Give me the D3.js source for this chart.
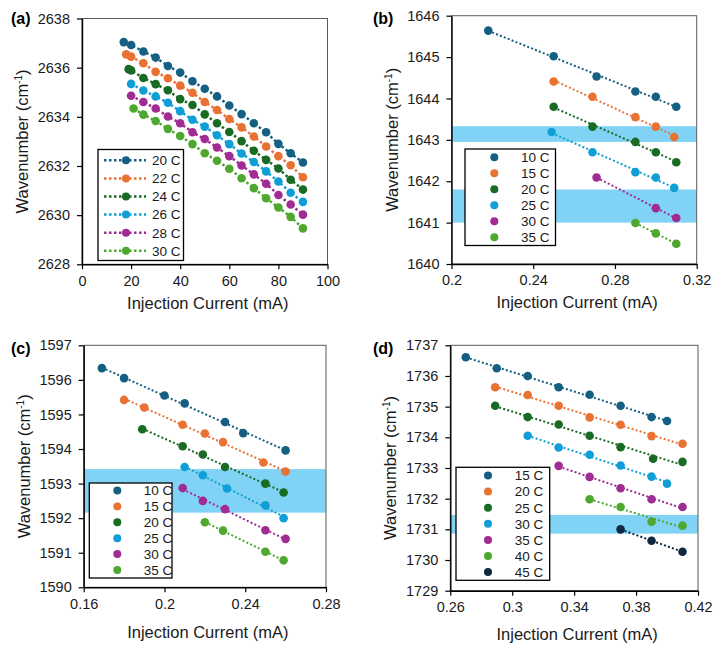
<!DOCTYPE html>
<html>
<head>
<meta charset="utf-8">
<script src="https://cdn.jsdelivr.net/npm/d3@7"></script>
<style>
  body { margin: 0; background: #fff; }
  svg { display: block; font-family: "Liberation Sans", Arial, sans-serif; }
</style>
</head>
<body>
<svg id="chart" width="722" height="662"></svg>
<script>
const palette = ['#156082', '#E97132', '#196B24', '#0F9ED5', '#A02B93', '#4EA72E', '#0E2841'];

// (a) injection current in mA, wavenumber in cm-1
const aLabels = ['20 C', '22 C', '24 C', '26 C', '28 C', '30 C'];
const aX = [
  [17, 20, 25, 30, 35, 40, 45, 50, 55, 60, 65, 70, 75, 80, 85, 90],
  [18, 20, 25, 30, 35, 40, 45, 50, 55, 60, 65, 70, 75, 80, 85, 90],
  [19, 20, 25, 30, 35, 40, 45, 50, 55, 60, 65, 70, 75, 80, 85, 90],
  [20, 25, 30, 35, 40, 45, 50, 55, 60, 65, 70, 75, 80, 85, 90],
  [20, 25, 30, 35, 40, 45, 50, 55, 60, 65, 70, 75, 80, 85, 90],
  [21, 25, 30, 35, 40, 45, 50, 55, 60, 65, 70, 75, 80, 85, 90]
];
const aY = [
  [2637.04, 2636.92, 2636.66, 2636.41, 2636.07, 2635.80, 2635.45, 2635.14, 2634.83, 2634.46, 2634.11, 2633.74, 2633.37, 2632.90, 2632.52, 2632.14],
  [2636.54, 2636.45, 2636.18, 2635.83, 2635.57, 2635.27, 2634.98, 2634.60, 2634.28, 2633.91, 2633.57, 2633.20, 2632.79, 2632.40, 2632.03, 2631.54],
  [2635.94, 2635.89, 2635.58, 2635.33, 2635.08, 2634.72, 2634.48, 2634.10, 2633.74, 2633.38, 2633.01, 2632.62, 2632.25, 2631.90, 2631.44, 2631.04],
  [2635.34, 2635.07, 2634.83, 2634.57, 2634.23, 2633.88, 2633.60, 2633.25, 2632.89, 2632.51, 2632.16, 2631.78, 2631.37, 2630.91, 2630.54],
  [2634.86, 2634.60, 2634.34, 2634.01, 2633.74, 2633.37, 2633.10, 2632.75, 2632.40, 2632.02, 2631.66, 2631.28, 2630.82, 2630.43, 2630.02],
  [2634.34, 2634.09, 2633.83, 2633.51, 2633.22, 2632.89, 2632.52, 2632.21, 2631.89, 2631.50, 2631.10, 2630.69, 2630.31, 2629.93, 2629.46]
];
const aTicksX = [0, 20, 40, 60, 80, 100];
const aTicksY = [2628, 2630, 2632, 2634, 2636, 2638];

// (b)
const bLabels = ['10 C', '15 C', '20 C', '25 C', '30 C', '35 C'];
const bX = [
  [0.218, 0.25, 0.271, 0.29, 0.30, 0.31],
  [0.25, 0.269, 0.29, 0.30, 0.309],
  [0.25, 0.269, 0.29, 0.30, 0.31],
  [0.249, 0.269, 0.29, 0.30, 0.309],
  [0.271, 0.30, 0.31],
  [0.29, 0.30, 0.31]
];
const bY = [
  [1645.64, 1645.02, 1644.53, 1644.17, 1644.04, 1643.80],
  [1644.41, 1644.04, 1643.55, 1643.32, 1643.07],
  [1643.80, 1643.32, 1642.95, 1642.70, 1642.46],
  [1643.19, 1642.70, 1642.22, 1642.09, 1641.84],
  [1642.09, 1641.35, 1641.11],
  [1640.99, 1640.74, 1640.49]
];
const bBands = [[1642.95, 1643.33], [1641.0, 1641.8]];
const bTicksX = [0.2, 0.24, 0.28, 0.32];
const bTicksY = [1640, 1641, 1642, 1643, 1644, 1645, 1646];

// (c)
const cLabels = ['10 C', '15 C', '20 C', '25 C', '30 C', '35 C'];
const cX = [
  [0.169, 0.18, 0.20, 0.21, 0.23, 0.239, 0.26],
  [0.18, 0.19, 0.209, 0.22, 0.229, 0.249, 0.26],
  [0.189, 0.209, 0.219, 0.23, 0.25, 0.259],
  [0.21, 0.219, 0.231, 0.25, 0.259],
  [0.209, 0.219, 0.23, 0.25, 0.26],
  [0.22, 0.229, 0.25, 0.259]
];
const cY = [
  [1596.34, 1596.05, 1595.55, 1595.32, 1594.78, 1594.46, 1593.96],
  [1595.42, 1595.20, 1594.70, 1594.45, 1594.20, 1593.61, 1593.35],
  [1594.57, 1594.08, 1593.84, 1593.48, 1593.00, 1592.74],
  [1593.48, 1593.24, 1592.86, 1592.37, 1592.00],
  [1592.87, 1592.50, 1592.26, 1591.65, 1591.40],
  [1591.88, 1591.64, 1591.03, 1590.78]
];
const cBands = [[1592.16, 1593.42]];
const cTicksX = [0.16, 0.2, 0.24, 0.28];
const cTicksY = [1590, 1591, 1592, 1593, 1594, 1595, 1596, 1597];

// (d)
const dLabels = ['15 C', '20 C', '25 C', '30 C', '35 C', '40 C', '45 C'];
const dX = [
  [0.27, 0.29, 0.31, 0.33, 0.35, 0.37, 0.39, 0.40],
  [0.289, 0.31, 0.33, 0.35, 0.37, 0.39, 0.41],
  [0.289, 0.31, 0.33, 0.35, 0.37, 0.391, 0.41],
  [0.31, 0.33, 0.35, 0.37, 0.39, 0.40],
  [0.33, 0.35, 0.37, 0.39, 0.41],
  [0.35, 0.37, 0.39, 0.41],
  [0.37, 0.39, 0.41]
];
const dY = [
  [1736.61, 1736.25, 1736.00, 1735.63, 1735.39, 1735.03, 1734.66, 1734.53],
  [1735.63, 1735.38, 1735.03, 1734.65, 1734.41, 1734.04, 1733.79],
  [1735.03, 1734.66, 1734.42, 1734.05, 1733.68, 1733.30, 1733.20],
  [1734.05, 1733.67, 1733.43, 1733.08, 1732.72, 1732.49],
  [1733.07, 1732.71, 1732.34, 1731.98, 1731.73],
  [1731.98, 1731.73, 1731.25, 1731.12],
  [1731.00, 1730.63, 1730.27]
];
const dBands = [[1730.86, 1731.47]];
const dTicksX = [0.26, 0.3, 0.34, 0.38, 0.42];
const dTicksY = [1729, 1730, 1731, 1732, 1733, 1734, 1735, 1736, 1737];

const svg = d3.select('#chart');

// least squares line through one series
const fitLine = (xs, ys) => {
  const mx = d3.mean(xs), my = d3.mean(ys);
  const sxy = d3.sum(xs, (v, i) => (v - mx) * (ys[i] - my));
  const sxx = d3.sum(xs, v => (v - mx) * (v - mx));
  const k = sxy / sxx;
  const x0 = d3.min(xs), x1 = d3.max(xs);
  return [[x0, my + k * (x0 - mx)], [x1, my + k * (x1 - mx)]];
};

function drawPanel(p) {
  const x = d3.scaleLinear().domain(d3.extent(p.ticksX)).range([p.left, p.right]);
  const y = d3.scaleLinear().domain(d3.extent(p.ticksY)).range([p.bottom, p.top]);
  const g = svg.append('g');

  g.selectAll('rect.band')
    .data(p.bands)
    .enter()
    .append('rect')
    .attr('class', 'band')
    .attr('x', p.left)
    .attr('width', p.right - p.left)
    .attr('y', d => y(d[1]))
    .attr('height', d => y(d[0]) - y(d[1]))
    .attr('fill', '#80d3f5');

  g.append('rect')
    .attr('x', p.left)
    .attr('y', p.top)
    .attr('width', p.right - p.left)
    .attr('height', p.bottom - p.top)
    .attr('fill', 'none')
    .attr('stroke', '#5a5a5a')
    .attr('stroke-width', 1);

  const styleAxis = s => {
    s.select('.domain').attr('stroke', '#000').attr('stroke-width', 1.4);
    s.selectAll('.tick line').attr('stroke', '#000').attr('stroke-width', 1.2);
    s.selectAll('.tick text').attr('font-size', 14.5).attr('fill', '#1a1a1a')
      .attr('font-family', '"Liberation Sans", Arial, sans-serif');
  };

  g.append('g')
    .attr('transform', `translate(${p.left},0)`)
    .call(d3.axisLeft(y).tickValues(p.ticksY).tickSize(5).tickSizeOuter(0).tickPadding(7).tickFormat(d => String(d)))
    .call(styleAxis);

  g.append('g')
    .attr('transform', `translate(0,${p.bottom})`)
    .call(d3.axisBottom(x).tickValues(p.ticksX).tickSize(5).tickSizeOuter(0).tickPadding(6).tickFormat(d => String(d)))
    .call(styleAxis);

  // series
  p.labels.forEach((label, i) => {
    const xs = p.xs[i], ys = p.ys[i];
    const color = palette[i];
    const pts = p.connect ? xs.map((v, j) => [v, ys[j]]) : fitLine(xs, ys);
    g.append('path')
      .attr('d', d3.line().x(d => x(d[0])).y(d => y(d[1]))(pts))
      .attr('fill', 'none')
      .attr('stroke', color)
      .attr('stroke-width', p.lineWidth)
      .attr('stroke-dasharray', p.dash);
    g.append('g')
      .selectAll('circle')
      .data(xs.map((v, j) => [v, ys[j]]))
      .enter()
      .append('circle')
      .attr('cx', d => x(d[0]))
      .attr('cy', d => y(d[1]))
      .attr('r', 4.3)
      .attr('fill', color);
  });

  // legend
  const lg = p.legend;
  g.append('rect')
    .attr('x', lg.x)
    .attr('y', lg.y)
    .attr('width', lg.w)
    .attr('height', lg.h)
    .attr('fill', '#fff')
    .attr('stroke', '#000')
    .attr('stroke-width', 1.3);
  p.labels.forEach((label, i) => {
    const color = palette[i];
    const ry = lg.row0 + i * lg.step;
    if (p.connect) {
      g.append('line')
        .attr('x1', lg.lineX0).attr('x2', lg.lineX1)
        .attr('y1', ry).attr('y2', ry)
        .attr('stroke', color)
        .attr('stroke-width', p.lineWidth)
        .attr('stroke-dasharray', p.dash);
    }
    g.append('circle')
      .attr('cx', lg.markX)
      .attr('cy', ry)
      .attr('r', 4)
      .attr('fill', color);
    g.append('text')
      .attr('x', lg.textX)
      .attr('y', ry + 4.8)
      .attr('font-size', 13.5)
      .attr('fill', '#1a1a1a')
      .text(label);
  });

  // titles
  g.append('text')
    .attr('x', (p.left + p.right) / 2 + 3)
    .attr('y', p.bottom + p.xTitleDy)
    .attr('text-anchor', 'middle')
    .attr('font-size', 16.5)
    .attr('fill', '#1a1a1a')
    .text('Injection Current (mA)');

  const yt = g.append('text')
    .attr('transform', `translate(${p.left - 54},${(p.top + p.bottom) / 2}) rotate(-90)`)
    .attr('text-anchor', 'middle')
    .attr('font-size', 16.5)
    .attr('fill', '#1a1a1a');
  yt.append('tspan').text('Wavenumber (cm');
  yt.append('tspan').attr('font-size', 10).attr('dy', -6).text('-1');
  yt.append('tspan').attr('dy', 6).text(')');

  g.append('text')
    .attr('x', p.tagX)
    .attr('y', p.tagY)
    .attr('font-size', 16)
    .attr('font-weight', 'bold')
    .attr('fill', '#000')
    .text(p.tag);
}

drawPanel({
  tag: '(a)', tagX: 11, tagY: 24,
  left: 82, right: 327.5, top: 18.5, bottom: 264.3,
  ticksX: aTicksX, ticksY: aTicksY, bands: [],
  labels: aLabels, xs: aX, ys: aY, connect: true,
  lineWidth: 2.5, dash: '2.5,2.5', xTitleDy: 45,
  legend: { x: 98, y: 149.5, w: 85.5, h: 111, row0: 160.3, step: 18.1, lineX0: 104, lineX1: 146, markX: 126, textX: 152 }
});

drawPanel({
  tag: '(b)', tagX: 373, tagY: 24,
  left: 451.5, right: 696.7, top: 15.7, bottom: 264,
  ticksX: bTicksX, ticksY: bTicksY, bands: bBands,
  labels: bLabels, xs: bX, ys: bY, connect: false,
  lineWidth: 2, dash: '2,2.2', xTitleDy: 44,
  legend: { x: 465, y: 149, w: 90.5, h: 96.5, row0: 157.3, step: 16, markX: 494.3, textX: 521 }
});

drawPanel({
  tag: '(c)', tagX: 11, tagY: 354,
  left: 83.7, right: 326, top: 345.3, bottom: 587.3,
  ticksX: cTicksX, ticksY: cTicksY, bands: cBands,
  labels: cLabels, xs: cX, ys: cY, connect: false,
  lineWidth: 2, dash: '2,2.2', xTitleDy: 51,
  legend: { x: 89.3, y: 483, w: 82.7, h: 95, row0: 490.5, step: 15.9, markX: 117.3, textX: 143.7 }
});

drawPanel({
  tag: '(d)', tagX: 373, tagY: 354,
  left: 450.3, right: 698, top: 345.3, bottom: 590.7,
  ticksX: dTicksX, ticksY: dTicksY, bands: dBands,
  labels: dLabels, xs: dX, ys: dY, connect: false,
  lineWidth: 2, dash: '2,2.2', xTitleDy: 49,
  legend: { x: 456, y: 467.3, w: 93.7, h: 113, row0: 475.5, step: 16.1, markX: 488, textX: 514.7 }
});
</script>
</body>
</html>
